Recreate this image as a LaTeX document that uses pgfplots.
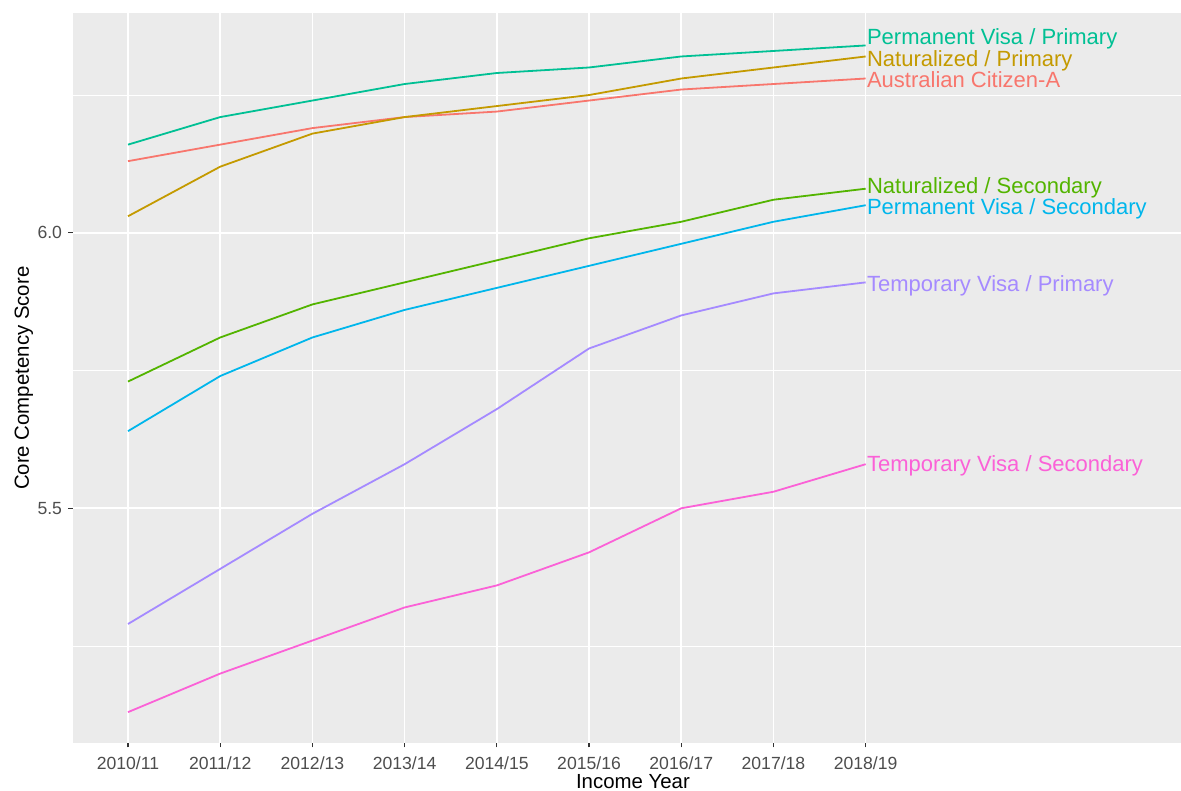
\documentclass[border=0pt]{standalone}
\usepackage{fontspec}
\setmainfont{Liberation Sans}
\usepackage{pgfplots}
\pgfplotsset{compat=1.18}
\definecolor{panelgrey}{HTML}{EBEBEB}
\definecolor{ticktext}{HTML}{4D4D4D}
\definecolor{tickmark}{HTML}{333333}
\definecolor{cAC}{HTML}{F8766D}
\definecolor{cNP}{HTML}{C49A00}
\definecolor{cNS}{HTML}{53B400}
\definecolor{cPVP}{HTML}{00C094}
\definecolor{cPVS}{HTML}{00B6EB}
\definecolor{cTVP}{HTML}{A58AFF}
\definecolor{cTVS}{HTML}{FB61D7}
\begin{document}
\begin{tikzpicture}
\useasboundingbox (-36.25bp,-24bp) rectangle (554.25bp,371.5bp);
\begin{axis}[
  at={(0,0)}, anchor=south west,
  scale only axis, width=554.25bp, height=364.75bp,
  xmin=-0.602, xmax=11.42, ymin=5.074, ymax=6.398,
  xtick={0,1,2,3,4,5,6,7,8},
  xticklabels={2010/11,2011/12,2012/13,2013/14,2014/15,2015/16,2016/17,2017/18,2018/19},
  ytick={5.5,6.0}, yticklabels={5.5,6.0},
  minor ytick={5.25,5.75,6.25},
  xmajorgrids=true, ymajorgrids=true, yminorgrids=true,
  major grid style={white, line width=0.8bp},
  minor grid style={white, line width=0.4bp},
  axis line style={draw=none},
  axis background/.style={fill=panelgrey},
  tick align=outside, xtick pos=bottom, ytick pos=left,
  major tick length=2.2bp, minor tick length=0pt,
  tick style={tickmark, line width=0.55bp},
  xticklabel style={anchor=base, inner sep=0pt, yshift=-11.2bp, font=\fontsize{8.8bp}{10bp}\selectfont, text=ticktext},
  yticklabel style={anchor=east, inner sep=0pt, xshift=-2.85bp, font=\fontsize{8.8bp}{10bp}\selectfont, text=ticktext},
  clip=false,
  every axis plot/.append style={line width=0.9bp, no markers},
]
\addplot[cAC] coordinates {(0,6.13) (1,6.16) (2,6.19) (3,6.21) (4,6.22) (5,6.24) (6,6.26) (7,6.27) (8,6.28)};
\addplot[cNP] coordinates {(0,6.03) (1,6.12) (2,6.18) (3,6.21) (4,6.23) (5,6.25) (6,6.28) (7,6.30) (8,6.32)};
\addplot[cNS] coordinates {(0,5.73) (1,5.81) (2,5.87) (3,5.91) (4,5.95) (5,5.99) (6,6.02) (7,6.06) (8,6.08)};
\addplot[cPVP] coordinates {(0,6.16) (1,6.21) (2,6.24) (3,6.27) (4,6.29) (5,6.30) (6,6.32) (7,6.33) (8,6.34)};
\addplot[cPVS] coordinates {(0,5.64) (1,5.74) (2,5.81) (3,5.86) (4,5.90) (5,5.94) (6,5.98) (7,6.02) (8,6.05)};
\addplot[cTVP] coordinates {(0,5.29) (1,5.39) (2,5.49) (3,5.58) (4,5.68) (5,5.79) (6,5.85) (7,5.89) (8,5.91)};
\addplot[cTVS] coordinates {(0,5.13) (1,5.20) (2,5.26) (3,5.32) (4,5.36) (5,5.42) (6,5.50) (7,5.53) (8,5.58)};
\begin{scope}[every node/.style={anchor=base west, inner sep=0pt, xshift=0.5bp, font=\fontsize{11bp}{13bp}\selectfont}]
\node[text=cPVP] at (axis cs:8,6.342) {Permanent Visa / Primary};
\node[text=cNP] at (axis cs:8,6.302) {Naturalized / Primary};
\node[text=cAC] at (axis cs:8,6.264) {Australian Citizen-A};
\node[text=cNS] at (axis cs:8,6.072) {Naturalized / Secondary};
\node[text=cPVS] at (axis cs:8,6.034) {Permanent Visa / Secondary};
\node[text=cTVP] at (axis cs:8,5.893) {Temporary Visa / Primary};
\node[text=cTVS] at (axis cs:8,5.566) {Temporary Visa / Secondary};
\end{scope}
\node[anchor=base, inner sep=0pt, yshift=-22.6bp, font=\fontsize{10.2bp}{12bp}\selectfont] at (rel axis cs:0.5056,0) {Income Year};
\node[anchor=base, inner sep=0pt, xshift=-21.75bp, rotate=90, font=\fontsize{10.2bp}{12bp}\selectfont] at (rel axis cs:0,0.5) {Core Competency Score};
\end{axis}
\end{tikzpicture}
\end{document}
